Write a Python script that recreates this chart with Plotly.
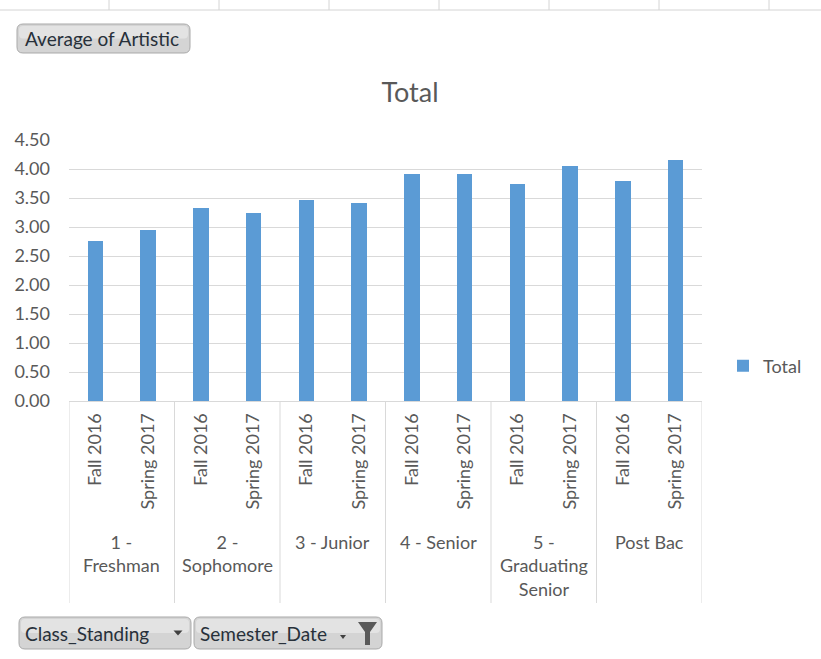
import plotly.graph_objects as go

# ---- data ----
class_standing = ["1 - Freshman", "2 - Sophomore", "3 - Junior", "4 - Senior",
                  "5 - Graduating Senior", "Post Bac"]
group_display = ["1 -<br>Freshman", "2 -<br>Sophomore", "3 - Junior", "4 - Senior",
                 "5 -<br>Graduating<br>Senior", "Post Bac"]
semesters = ["Fall 2016", "Spring 2017"]
values = [2.76, 2.94, 3.32, 3.24, 3.47, 3.41, 3.92, 3.92, 3.74, 4.06, 3.80, 4.15]
y_ticks = [0, 0.5, 1.0, 1.5, 2.0, 2.5, 3.0, 3.5, 4.0, 4.5]

W, H = 821, 659
L, R, T, B = 69, 702, 140, 401   # plot area in pixels

def px(x):
    return (x - L) / (R - L)

def py(y):
    return (B - y) / (B - T)

FONT = "Lato"
GRAY = "#595959"
LINE = "#d9d9d9"

n_groups = len(class_standing)
n_sem = len(semesters)
xs = list(range(n_groups * n_sem))
tick_text = [s for _ in class_standing for s in semesters]

fig = go.Figure()
fig.add_trace(go.Bar(
    x=xs, y=values, name="Total",
    marker=dict(color="#5b9bd5", line=dict(width=0)),
    width=0.29,
))

shapes = []
annotations = []

# group dividers (in data x coords)
for g in range(n_groups + 1):
    xd = g * n_sem - 0.5
    shapes.append(dict(type="line", xref="x", yref="paper", x0=xd, x1=xd,
                       y0=0, y1=py(603), line=dict(color=LINE, width=1)))

# group labels
for g, lab in enumerate(group_display):
    annotations.append(dict(xref="x", yref="paper", x=g * n_sem + (n_sem - 1) / 2,
                            y=py(529), yanchor="top", xanchor="center",
                            text=lab, showarrow=False,
                            font=dict(family=FONT, size=18, color=GRAY)))

# spreadsheet cell border at top
shapes.append(dict(type="line", xref="paper", yref="paper", x0=px(0), x1=px(W),
                   y0=py(10), y1=py(10), line=dict(color="#d4d4d4", width=1)))
for cx in [109, 219, 329, 439, 549, 659, 769]:
    shapes.append(dict(type="line", xref="paper", yref="paper", x0=px(cx), x1=px(cx),
                       y0=py(0), y1=py(10), line=dict(color="#d4d4d4", width=1)))


def rrect(x0, y0, x1, y1, r=6):
    pts = [
        f"M{px(x0 + r)},{py(y0)}",
        f"L{px(x1 - r)},{py(y0)}",
        f"Q{px(x1)},{py(y0)} {px(x1)},{py(y0 + r)}",
        f"L{px(x1)},{py(y1 - r)}",
        f"Q{px(x1)},{py(y1)} {px(x1 - r)},{py(y1)}",
        f"L{px(x0 + r)},{py(y1)}",
        f"Q{px(x0)},{py(y1)} {px(x0)},{py(y1 - r)}",
        f"L{px(x0)},{py(y0 + r)}",
        f"Q{px(x0)},{py(y0)} {px(x0 + r)},{py(y0)}",
        "Z",
    ]
    return " ".join(pts)


def button(x0, y0, x1, y1, text, tx):
    shapes.append(dict(type="path", xref="paper", yref="paper", path=rrect(x0, y0, x1, y1),
                       fillcolor="#d4d4d4", line=dict(color="#a9a9a9", width=1), layer="above"))
    shapes.append(dict(type="path", xref="paper", yref="paper",
                       path=rrect(x0 + 2, y0 + 2, x1 - 2, (y0 + y1) / 2, r=4),
                       fillcolor="#e3e3e3", line=dict(width=0), layer="above"))
    annotations.append(dict(xref="paper", yref="paper", x=px(tx), y=py((y0 + y1) / 2),
                            xanchor="left", yanchor="middle", text=text, showarrow=False,
                            font=dict(family=FONT, size=19, color="#27303a")))


def tri(cx, cy, w, h, color="#404040"):
    p = f"M{px(cx - w / 2)},{py(cy - h / 2)} L{px(cx + w / 2)},{py(cy - h / 2)} L{px(cx)},{py(cy + h / 2)} Z"
    shapes.append(dict(type="path", xref="paper", yref="paper", path=p,
                       fillcolor=color, line=dict(width=0), layer="above"))


button(17, 24, 190, 53, "Average of Artistic", 23)
button(19, 617, 191, 649, "Class_Standing", 23)
tri(178, 633, 9, 5)
button(194, 617, 382, 649, "Semester_Date", 198)
tri(343, 637, 6, 4)
funnel = (f"M{px(358)},{py(622)} L{px(377)},{py(622)} L{px(370)},{py(632)} "
          f"L{px(370)},{py(645)} L{px(365)},{py(645)} L{px(365)},{py(632)} Z")
shapes.append(dict(type="path", xref="paper", yref="paper", path=funnel,
                   fillcolor="#5a5a5a", line=dict(width=0), layer="above"))

fig.update_layout(
    width=W, height=H,
    margin=dict(l=L, r=W - R, t=T, b=H - B, pad=0),
    paper_bgcolor="white", plot_bgcolor="white",
    title=dict(text="Total", x=410 / W, xanchor="center", y=1 - 93 / H, yanchor="middle",
               font=dict(family=FONT, size=27, color=GRAY)),
    xaxis=dict(
        range=[-0.5, len(xs) - 0.5],
        tickmode="array", tickvals=xs, ticktext=tick_text,
        tickangle=-90, showgrid=False, zeroline=False,
        showline=True, linecolor=LINE, linewidth=1,
        ticks="", ticklabelstandoff=4,
        tickfont=dict(family=FONT, size=18, color=GRAY),
    ),
    yaxis=dict(
        range=[0, 4.5], tickmode="array", tickvals=y_ticks, tickformat=".2f",
        showgrid=True, gridcolor=LINE, gridwidth=1, zeroline=False,
        showline=False, ticks="", ticklabelstandoff=18,
        tickfont=dict(family=FONT, size=18, color=GRAY),
    ),
    showlegend=True,
    legend=dict(x=px(723), xanchor="left", y=py(366), yanchor="middle",
                font=dict(family=FONT, size=18, color=GRAY),
                bgcolor="rgba(0,0,0,0)", itemwidth=30),
    shapes=shapes,
    annotations=annotations,
    bargap=0,
)

fig.write_html("out.html", config={"displayModeBar": False},
               post_script="document.body.style.margin='0px';document.body.style.padding='0px';")
